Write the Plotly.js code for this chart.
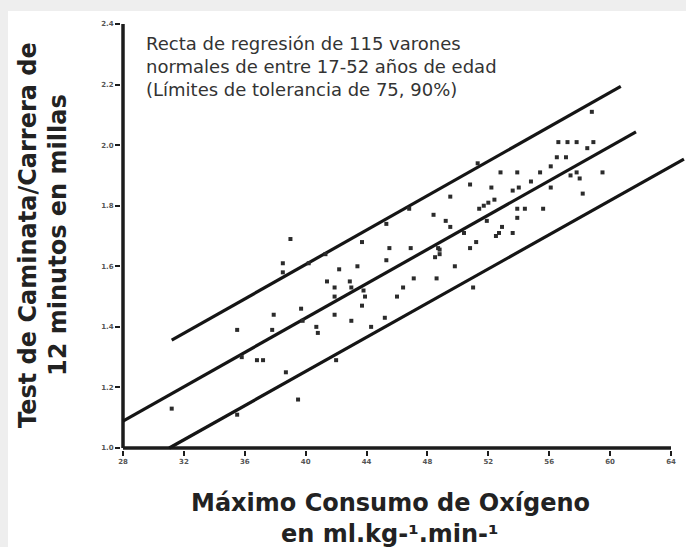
<!DOCTYPE html>
<html><head><meta charset="utf-8">
<script src="https://cdn.plot.ly/plotly-3.0.1.min.js"></script>
<style>
html,body{margin:0;padding:0;background:#eeeeee;overflow:hidden;}
#chart{position:absolute;left:8px;top:11px;width:678px;height:536px;background:#fff;}
</style></head><body><div id="chart"></div>
<script>
// Máximo consumo de oxígeno (ml.kg-1.min-1)
const vo2 = [
 31.2,35.5,35.5,35.8,36.8,37.2,37.9,37.8,38.7,38.5,38.5,39.0,39.7,39.5,39.8,40.2,40.7,40.8,41.3,41.4,41.9,42.0,41.9,41.9,42.2,42.9,43.0,43.0,43.4,
 43.7,45.3,45.5,45.3,43.8,43.9,43.7,44.3,45.2,46.0,46.4,46.8,46.9,47.1,48.4,48.5,48.7,48.8,48.8,48.6,49.2,49.5,49.5,49.8,50.4,50.8,50.8,51.0,51.2,51.3,
 51.4,51.7,52.0,52.4,51.9,52.2,52.8,52.9,52.7,52.5,
 58.8,56.6,57.2,57.8,58.9,58.5,56.5,57.1,56.1,53.9,55.4,57.8,57.4,58.0,59.5,54.8,54.0,53.6,56.1,58.2,53.9,54.4,55.6,53.9,53.6
];
// Test de 12 minutos (millas)
const millas = [
 1.13,1.39,1.11,1.30,1.29,1.29,1.44,1.39,1.25,1.61,1.58,1.69,1.46,1.16,1.42,1.61,1.40,1.38,1.64,1.55,1.53,1.29,1.44,1.50,1.59,1.55,1.53,1.42,1.60,
 1.68,1.74,1.66,1.62,1.52,1.50,1.47,1.40,1.43,1.50,1.53,1.79,1.66,1.56,1.77,1.63,1.66,1.655,1.64,1.56,1.75,1.73,1.83,1.60,1.71,1.87,1.66,1.53,1.68,1.94,
 1.79,1.80,1.81,1.82,1.75,1.86,1.91,1.73,1.71,1.70,
 2.11,2.01,2.01,2.01,2.01,1.99,1.96,1.96,1.93,1.91,1.91,1.91,1.90,1.89,1.91,1.88,1.86,1.85,1.86,1.84,1.79,1.79,1.79,1.76,1.71
];
// Regression line and tolerance limits (end points)
const upperX = [31.2, 60.7],  upperY = [1.356, 2.194];
const midX   = [28.0, 61.7],  midY   = [1.089, 2.044];
const lowerX = [31.04, 64.85], lowerY = [1.0, 1.954];

const xTicks = [28,32,36,40,44,48,52,56,60,64];
const yTicks = [1.0,1.2,1.4,1.6,1.8,2.0,2.2,2.4];
const noteLines = ['Recta de regresión de 115 varones','normales de entre 17-52 años de edad','(Límites de tolerancia de 75, 90%)'];
const xTitleLines = ['Máximo Consumo de Oxígeno','en ml.kg-¹.min-¹'];
const yTitleLines = ['Test de Caminata/Carrera de','12 minutos en millas'];

// geometry (page pixels)
const OX=8, OY=11;                  // white panel offset in the page
const X0=123, Y0=448;               // page position of (28, 1.0)
const sx = 548/36, sy = 302.8;      // px per unit
const pad = 2;
const ML = X0 - OX - pad, MT = (Y0 - 1.4*sy) - OY - pad;
const W = 678 - ML, H = 1.4*sy + 2*pad;
const px = X => (X-OX-ML)/W;
const py = Y => (OY+MT+H-Y)/H;

const ink = '#1c1c1c';
const lineStyle = {color:'#151515', width:3.2};
const axisStyle = {color:ink, width:3.5};
const traces = [
 // axis baselines
 {x:[xTicks[0], xTicks[xTicks.length-1]], y:[yTicks[0], yTicks[0]], mode:'lines', line:axisStyle, hoverinfo:'skip'},
 {x:[xTicks[0], xTicks[0]], y:[yTicks[0], yTicks[yTicks.length-1]], mode:'lines', line:axisStyle, hoverinfo:'skip'},
 // regression and tolerance limits
 {x:upperX, y:upperY, mode:'lines', line:lineStyle, hoverinfo:'skip'},
 {x:midX, y:midY, mode:'lines', line:lineStyle, hoverinfo:'skip'},
 {x:lowerX, y:lowerY, mode:'lines', line:lineStyle, hoverinfo:'skip'},
 {x:vo2, y:millas, mode:'markers',
  marker:{symbol:'square', size:4, color:'#2b2b2b', line:{width:0}}}
];

const tickFont = {family:'DejaVu Sans', size:7, color:'#555', weight:'bold'};
const annotations = [];
noteLines.forEach((t,i)=>annotations.push({
  text:t, xref:'paper', yref:'paper', x:px(144), y:py(44+23*i), xanchor:'left', yanchor:'middle',
  showarrow:false, font:{family:'DejaVu Sans', size:18, color:'#333'}
}));
xTitleLines.forEach((t,i)=>annotations.push({
  text:t, xref:'paper', yref:'paper', x:px(390), y:py(503+31*i), xanchor:'center', yanchor:'middle',
  showarrow:false, font:{family:'DejaVu Sans', size:24, color:'#222', weight:'bold'}
}));
yTitleLines.forEach((t,i)=>annotations.push({
  text:t, xref:'paper', yref:'paper', x:px(28+30*i), y:py(235), xanchor:'center', yanchor:'middle',
  textangle:-90, showarrow:false, font:{family:'DejaVu Sans', size:24, color:'#222', weight:'bold'}
}));

const layout = {
  width:678, height:536,
  margin:{l:ML, r:0, t:MT, b:536-MT-H},
  paper_bgcolor:'#ffffff', plot_bgcolor:'#ffffff',
  showlegend:false,
  xaxis:{range:[28 - pad/sx, 28 + (W-pad)/sx], tickvals:xTicks, ticktext:xTicks.map(String),
    showgrid:false, zeroline:false, showline:false,
    ticks:'outside', ticklen:5, tickwidth:2, tickcolor:ink, tickfont:tickFont, fixedrange:true},
  yaxis:{range:[1.0 - pad/sy, 2.4 + pad/sy], tickvals:yTicks, ticktext:yTicks.map(v=>v.toFixed(1)),
    showgrid:false, zeroline:false, showline:false,
    ticks:'outside', ticklen:5, tickwidth:2, tickcolor:ink, tickfont:tickFont, fixedrange:true},
  annotations:annotations
};
Plotly.newPlot('chart', traces, layout, {displayModeBar:false});
</script></body></html>
